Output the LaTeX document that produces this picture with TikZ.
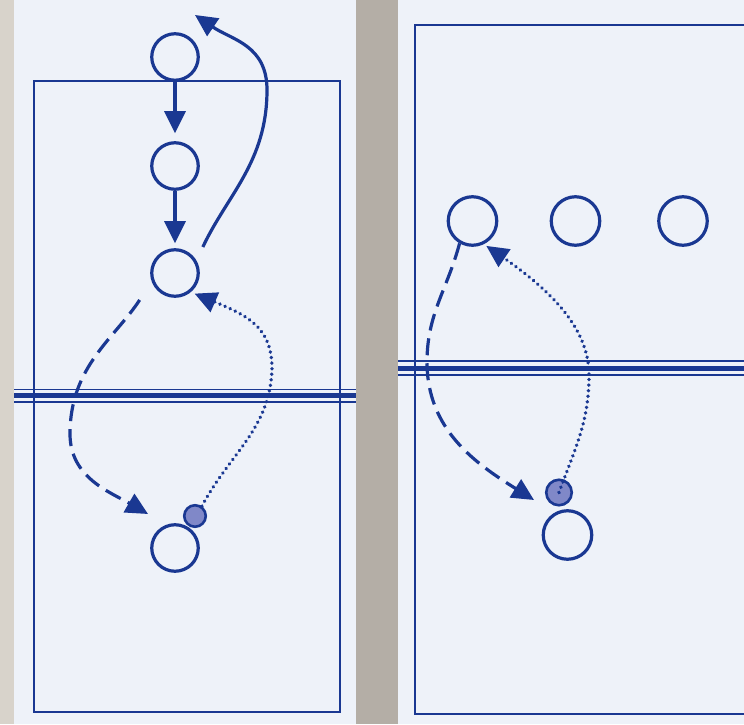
\documentclass[tikz,border=0pt]{standalone}
\usetikzlibrary{arrows.meta,decorations.markings}
\definecolor{ink}{HTML}{1A3892}
\definecolor{paper}{HTML}{EEF2F9}
\definecolor{gapgrey}{HTML}{B4AEA6}
\definecolor{stripgrey}{HTML}{D8D3CB}
\definecolor{ballfill}{HTML}{8088C8}
\begin{document}
\begin{tikzpicture}[x=1pt,y=1pt,
  court/.style={draw=ink,line width=2.4pt},
  netthin/.style={draw=ink,line width=1.8pt},
  netthick/.style={draw=ink,line width=5.5pt},
  player/.style={circle,draw=ink,line width=3.2pt,minimum size=46.5pt,inner sep=0pt},
  playerR/.style={player,minimum size=48.5pt},
  ballL/.style={circle,draw=ink,fill=ballfill,line width=2.6pt,minimum size=21.5pt,inner sep=0pt},
  ballR/.style={ballL,minimum size=25.5pt},
  tip/.style={-{Triangle[length=22pt,width=21pt]}},
  solidarr/.style={draw=ink,line width=3.2pt,tip},
  dasharr/.style={draw=ink,line width=3.2pt,dash pattern=on 17pt off 8pt,tip},
  dotarr/.style={draw=ink,line width=3pt,dash pattern=on 0.01pt off 10000pt,line cap=round,tip,
    postaction={decorate,decoration={markings,
      mark=between positions 0 and 0.97 step 5.6pt with {\fill[ink] (0,0) circle (1.9pt);}}}}]
\useasboundingbox (0,0) rectangle (744,724);
\clip (0,0) rectangle (744,724);
% background and paper
\fill[gapgrey] (0,0) rectangle (744,724);
\fill[stripgrey] (0,0) rectangle (14,724);
\fill[paper] (14,0) rectangle (356,724);
\fill[paper] (398,0) rectangle (744,724);
% courts
\draw[court] (34,12) rectangle (340,643);
\draw[court] (415,10) rectangle (770,699);
% nets
\draw[netthin] (14,334.5) -- (356,334.5);
\draw[netthick] (14,328.5) -- (356,328.5);
\draw[netthin] (14,322) -- (356,322);
\draw[netthin] (398,363) -- (744,363);
\draw[netthick] (398,355.5) -- (744,355.5);
\draw[netthin] (398,349) -- (744,349);
% left players
\node[player] (a1) at (175,667) {};
\node[player] (a2) at (175,558) {};
\node[player] (a3) at (175,451) {};
\node[player] (a4) at (175,176) {};
\node[ballL] (bl) at (195,208) {};
% right players
\node[playerR] (b1) at (472.5,503) {};
\node[playerR] (b2) at (575.5,503) {};
\node[playerR] (b3) at (683,503) {};
\node[playerR] (b4) at (567.5,189) {};
\node[ballR] (br) at (559,231.5) {};
% free ends
\coordinate (tipTop) at (195,709);
\coordinate (tipDL) at (148,210);
\coordinate (tipDR) at (534,224);
% left arrows
\draw[solidarr,shorten >=8pt] (a1) -- (a2);
\draw[solidarr,shorten >=5pt] (a2) -- (a3);
\draw[solidarr,shorten <=15pt] (a3.30) to[out=65,in=-90] (267,634)
  .. controls (267,679) and (232,684) .. (tipTop);
\draw[dasharr,shorten <=22pt] (a3.-160) to[out=-123,in=90] (70,290)
  to[out=-90,in=150] (tipDL);
\draw[dotarr,shorten >=4pt] (bl.55) to[out=62,in=-92] (272,355)
  .. controls (272,405) and (237,412) .. (a3.-50);
% right arrows
\draw[dasharr] (b1.-120) to[out=-105,in=90] (427,362)
  to[out=-90,in=148] (tipDR);
\draw[dotarr,shorten >=3pt] (br.center) to[out=70,in=-90] (589,349)
  .. controls (589,409) and (525,452) .. (b1.-64);
\end{tikzpicture}
\end{document}
